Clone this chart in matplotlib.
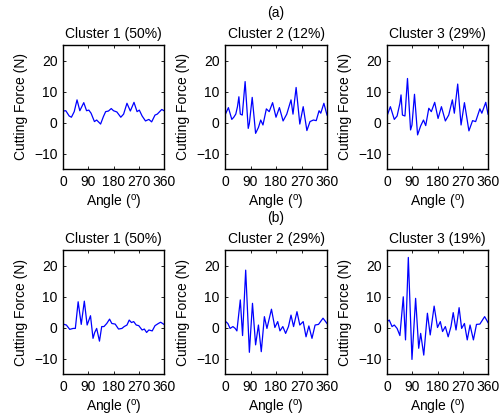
import numpy as np
import matplotlib
matplotlib.use("Agg")
import matplotlib.pyplot as plt

plt.rcParams['font.family'] = ['Liberation Sans', 'DejaVu Sans']
plt.rcParams['mathtext.fontset'] = 'custom'
plt.rcParams['mathtext.rm'] = 'Liberation Sans'
plt.rcParams['mathtext.it'] = 'Liberation Sans'

# (a) row: angle / force
a1_ang = [0, 10, 22, 30, 40, 50, 60, 74, 84, 92, 100, 112, 120, 134, 144, 152, 162, 172, 180,
          192, 206, 216, 228, 240, 253, 264, 272, 282, 294, 306, 316, 328, 336, 352, 360]
a1_val = [3.7, 3.8, 2.1, 1.7, 3.5, 7.3, 3.8, 6.4, 3.8, 4.0, 3.0, 0.3, 0.8, -0.5, 1.9, 3.5, 3.7, 4.5, 3.8,
          3.4, 1.7, 2.7, 6.2, 3.7, 6.5, 3.5, 4.0, 2.1, 0.5, 1.0, 0.2, 2.4, 2.7, 4.2, 3.8]

a2_ang = [0, 12, 24, 31, 38, 44, 49, 54, 61, 71, 82, 86, 96, 108, 118, 126, 134, 146, 156, 168,
          180, 192, 205, 218, 233, 240, 251, 264, 276, 289, 300, 312, 322, 332, 338, 349, 360]
a2_val = [2.4, 4.8, 1.0, 1.7, 2.7, 5.1, 8.3, 2.7, 2.4, 13.2, -1.9, -0.3, 8.1, -3.5, -1.6, 0.8, -0.8, 4.4, 3.5, 6.4,
          1.7, 4.8, 0.5, 2.7, 7.3, 2.7, 11.3, -0.5, 5.1, -2.6, 0.3, 0.8, 0.6, 3.8, 3.0, 6.2, 2.4]

a3_ang = [0, 12, 26, 36, 46, 50, 55, 64, 73, 84, 89, 98, 109, 120, 130, 138, 149, 158, 170,
          182, 194, 208, 220, 233, 240, 252, 264, 276, 292, 305, 316, 331, 338, 352, 360]
a3_val = [2.1, 5.1, 1.0, 2.1, 6.2, 8.9, 2.4, 2.1, 14.2, -2.4, -0.8, 9.1, -4.0, -1.1, 0.8, -1.0, 4.6, 3.5, 6.5,
          1.3, 5.1, 0.5, 2.4, 7.3, 3.0, 12.4, -0.8, 6.4, -2.7, 0.6, 0.3, 4.4, 3.0, 6.5, 2.7]

# (b) row
b1_ang = [0, 12, 24, 36, 44, 54, 65, 76, 86, 98, 107, 113, 120, 130, 138, 146, 156, 166, 174,
          186, 198, 210, 218, 228, 236, 244, 252, 261, 270, 282, 290, 298, 306, 318, 328, 340, 348, 360]
b1_val = [1.1, 0.8, -0.6, -0.3, -0.3, 8.3, 1.0, 8.5, 0.8, 3.8, -3.5, -1.6, -0.3, -4.4, 0.3, 0.3, 1.3, 2.7, 1.3,
          1.1, -0.5, -0.3, 0.3, 0.8, 2.4, 1.6, 1.9, 0.8, 0.6, -0.8, -0.5, -1.6, -0.8, -1.1, 0.6, 1.3, 1.7, 1.0]

b2_ang = [0, 10, 18, 28, 36, 42, 54, 62, 73, 86, 97, 108, 118, 128, 139, 148, 164, 176, 186,
          194, 204, 214, 224, 233, 242, 254, 264, 276, 286, 296, 307, 318, 330, 346, 360]
b2_val = [2.1, 1.3, -0.3, 0.3, -0.3, -1.1, 8.9, -2.6, 18.5, -8.0, 7.8, -5.6, 0.8, -7.8, 3.5, -0.3, 5.9, 0.0, 1.9,
          -1.1, 0.3, -1.9, 0.3, 4.0, 0.3, 5.1, 0.8, 1.9, -3.0, 0.5, -3.5, 0.8, 1.0, 3.0, 1.3]

b3_ang = [0, 8, 18, 26, 36, 46, 58, 66, 76, 89, 102, 113, 120, 131, 144, 154, 168, 180, 190,
          198, 208, 218, 228, 236, 246, 257, 266, 276, 286, 296, 308, 319, 331, 348, 360]
b3_val = [1.9, 2.4, 0.3, 0.8, -0.3, -2.6, 9.9, -4.0, 22.6, -10.3, 9.4, -6.7, -1.9, -8.9, 4.6, -2.4, 6.9, 0.0, 1.9,
          -1.3, 0.3, -3.0, 0.3, 4.8, -0.8, 6.4, -0.3, 1.3, -4.0, 0.8, -4.0, 1.0, 1.1, 3.5, 1.6]

rows = [[(a1_ang, a1_val), (a2_ang, a2_val), (a3_ang, a3_val)],
        [(b1_ang, b1_val), (b2_ang, b2_val), (b3_ang, b3_val)]]
titles = [["Cluster 1 (50%)", "Cluster 2 (12%)", "Cluster 3 (29%)"],
          ["Cluster 1 (50%)", "Cluster 2 (29%)", "Cluster 3 (19%)"]]
row_tags = ["(a)", "(b)"]

xticks = [0, 90, 180, 270, 360]
yticks = [-10, 0, 10, 20]

W, H = 503, 418
fig = plt.figure(figsize=(W / 100, H / 100), dpi=100)

lefts = [63, 225, 387]
widths = [101, 102, 101]
tops = [45, 250]
ax_h = 124

for r in range(2):
    for c in range(3):
        ax = fig.add_axes([lefts[c] / W, 1 - (tops[r] + ax_h) / H, widths[c] / W, ax_h / H])
        ang, val = rows[r][c]
        ax.plot(ang, val, color=(0, 0, 1), lw=0.9)
        ax.set_xlim(0, 360)
        ax.set_ylim(-15, 25)
        ax.set_xticks(xticks)
        ax.set_yticks(yticks)
        ax.tick_params(direction='in', top=True, right=True, length=2.5, width=0.6,
                       labelsize=10, pad=4)
        for s in ax.spines.values():
            s.set_linewidth(1.0)
        ax.set_title(titles[r][c], fontsize=10, pad=5)
        ax.set_xlabel(r'Angle ($^{\mathrm{o}}$)', fontsize=10, labelpad=3)
        ax.set_ylabel('Cutting Force (N)', fontsize=10, labelpad=4)
        if c == 1:
            # row tag sits just above the middle title
            ax.text(0.5, 1.0 + 32 / ax_h, row_tags[r], transform=ax.transAxes,
                    ha='center', va='center', fontsize=10)

fig.savefig("out.png", dpi=100)
